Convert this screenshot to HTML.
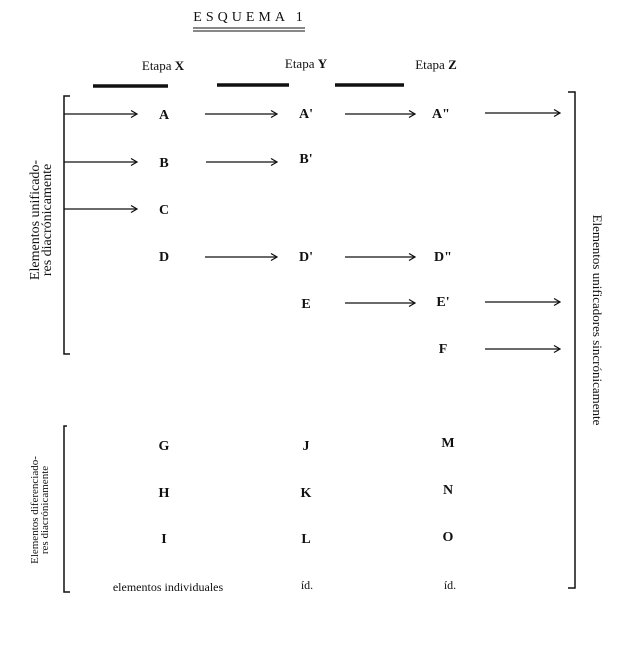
<!DOCTYPE html>
<html><head><meta charset="utf-8"><style>
body{margin:0;background:#fff;}
svg{display:block;}
text{font-family:"Liberation Serif",serif;fill:#111;}
</style></head><body>
<svg width="633" height="650" viewBox="0 0 633 650" xmlns="http://www.w3.org/2000/svg">
<defs><marker id="ah" markerWidth="8" markerHeight="8" refX="7" refY="4" orient="auto" markerUnits="userSpaceOnUse"><path d="M1,0.5 L7,4 L1,7.5" fill="none" stroke="#111" stroke-width="1.2"/></marker></defs>
<text x="250" y="21" font-size="14" text-anchor="middle" letter-spacing="4">ESQUEMA  1</text>
<line x1="193" y1="28" x2="305" y2="28" stroke="#111" stroke-width="1"/>
<line x1="193" y1="31" x2="305" y2="31" stroke="#111" stroke-width="1"/>
<g font-size="13" text-anchor="middle">
<text x="163" y="70">Etapa <tspan font-weight="bold">X</tspan></text>
<text x="306" y="68">Etapa <tspan font-weight="bold">Y</tspan></text>
<text x="436" y="69">Etapa <tspan font-weight="bold">Z</tspan></text>
</g>
<g stroke="#111" stroke-width="3.5">
<line x1="93" y1="86" x2="168" y2="86"/><line x1="217" y1="85" x2="289" y2="85"/><line x1="335" y1="85" x2="404" y2="85"/>
</g>
<g stroke="#111" stroke-width="1.5" fill="none">
<path d="M70,96 H64 V354 H70"/>
<path d="M67,426 H64 V592 H70"/>
<path d="M568,92 H575 V588 H568"/>
</g>
<g stroke="#111" stroke-width="1.3" marker-end="url(#ah)">
<line x1="64" y1="114" x2="137" y2="114"/><line x1="205" y1="114" x2="277" y2="114"/><line x1="345" y1="114" x2="415" y2="114"/><line x1="485" y1="113" x2="560" y2="113"/>
<line x1="64" y1="162" x2="137" y2="162"/><line x1="206" y1="162" x2="277" y2="162"/>
<line x1="64" y1="209" x2="137" y2="209"/>
<line x1="205" y1="257" x2="277" y2="257"/><line x1="345" y1="257" x2="415" y2="257"/>
<line x1="345" y1="303" x2="415" y2="303"/><line x1="485" y1="302" x2="560" y2="302"/>
<line x1="485" y1="349" x2="560" y2="349"/>
</g>
<g font-size="14" font-weight="bold" text-anchor="middle">
<text x="164" y="119">A</text><text x="306" y="118">A'</text><text x="441" y="118">A"</text>
<text x="164" y="167">B</text><text x="306" y="163">B'</text>
<text x="164" y="214">C</text>
<text x="164" y="261">D</text><text x="306" y="261">D'</text><text x="443" y="261">D"</text>
<text x="306" y="308">E</text><text x="443" y="306">E'</text>
<text x="443" y="353">F</text>
<text x="164" y="450">G</text><text x="306" y="450">J</text><text x="448" y="447">M</text>
<text x="164" y="497">H</text><text x="306" y="497">K</text><text x="448" y="494">N</text>
<text x="164" y="543">I</text><text x="306" y="543">L</text><text x="448" y="541">O</text>
</g>
<g font-size="12" text-anchor="middle">
<text x="168" y="591">elementos individuales</text>
<text x="307" y="589">íd.</text><text x="450" y="589">íd.</text>
</g>
<g font-size="14" text-anchor="middle">
<text transform="translate(39,220) rotate(-90)">Elementos unificado-</text>
<text transform="translate(51,220) rotate(-90)">res diacrónicamente</text>
</g>
<text font-size="13" text-anchor="middle" transform="translate(593,320) rotate(90)">Elementos unificadores sincrónicamente</text>
<g font-size="11" text-anchor="middle">
<text transform="translate(38,510) rotate(-90)">Elementos diferenciado-</text>
<text transform="translate(48,510) rotate(-90)">res diacrónicamente</text>
</g>
</svg>
</body></html>
